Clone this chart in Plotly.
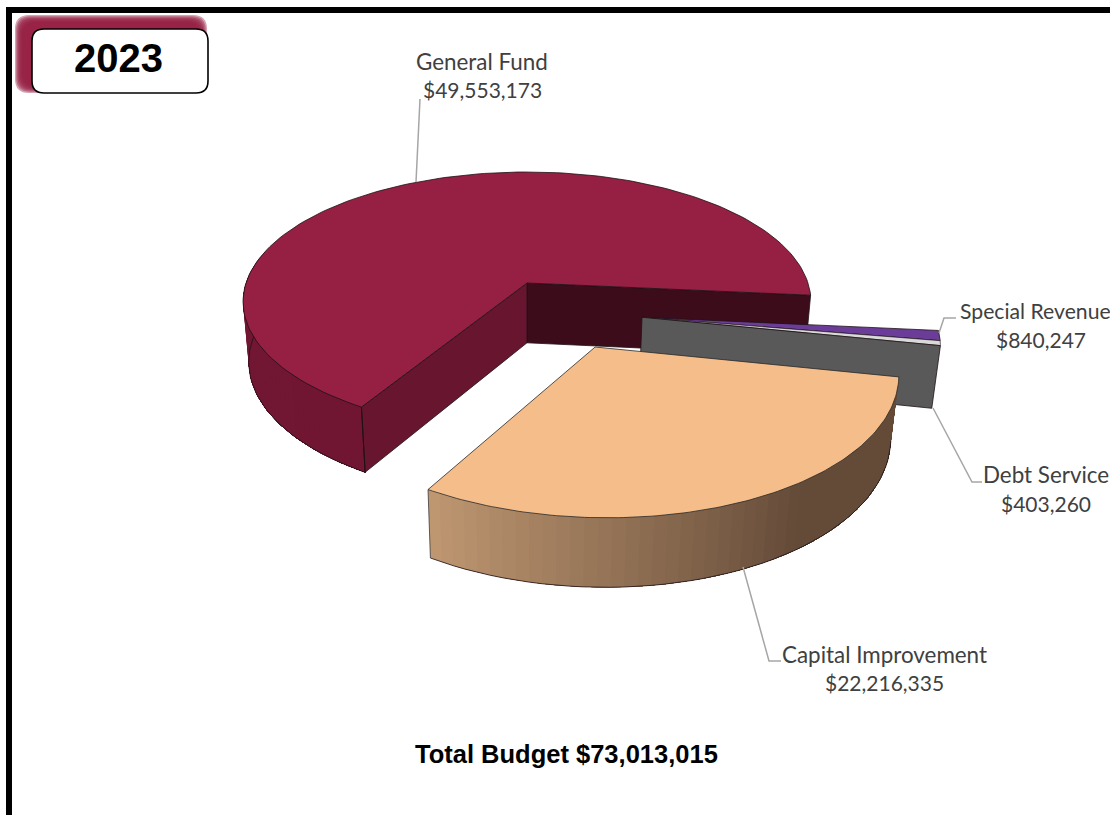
import math
import plotly.graph_objects as go

# Budget by fund
funds = ["General Fund", "Capital Improvement", "Debt Service", "Special Revenue"]
budget = [49553173, 22216335, 403260, 840247]
year_label = "2023"

top_colors = ["#962043", "#F5BD8A", "#D9D9D9", "#6B3D98"]
wall_left = [(116, 24, 52), (192, 152, 114), (89, 89, 89), (60, 35, 90)]
wall_right = [(112, 22, 50), (100, 75, 56), (89, 89, 89), (60, 35, 90)]
start_face = ["#3D0C1A", "#5A432E", "#595959", "#3C235A"]
end_face = ["#68152F", "#B08A64", "#595959", "#3C235A"]
EDGE = "#1E1216"

# Explosion of each slice in the pie's own plane, in radii
offsets = [(0.0, 0.0), (0.226, -0.47), (0.394, -0.26), (0.394, -0.26)]
radii = [1.0, 0.99, 1.0, 1.0]
first_angle = 238.9  # the General Fund / Capital Improvement boundary


def project(x, y, depth):
    """Perspective view of a point on the pie; depth is 0 on top, 1 at the base."""
    w = 1 + 0.144 * y + 0.02 * depth
    return 527 + 281 * x / w, 283 + (-127 * y + 61 * depth) / w


def rim(i, ang, depth):
    ox, oy = offsets[i]
    a = math.radians(ang)
    return project(ox + radii[i] * math.cos(a), oy + radii[i] * math.sin(a), depth)


def apex(i, depth):
    return project(*offsets[i], depth)


def mix(c1, c2, t):
    return "rgb(%d,%d,%d)" % tuple(round(a + (b - a) * t) for a, b in zip(c1, c2))


def steps(a0, a1, n):
    return [a0 + (a1 - a0) * k / n for k in range(n + 1)]


fig = go.Figure()


def poly(points, fill, line=None, width=0.8):
    xs = [p[0] for p in points] + [points[0][0]]
    ys = [p[1] for p in points] + [points[0][1]]
    fig.add_trace(go.Scatter(
        x=xs, y=ys, mode="lines", fill="toself", fillcolor=fill,
        line=dict(color=line or fill, width=width),
        hoverinfo="skip", showlegend=False))


def stroke(points, color, width=0.8):
    fig.add_trace(go.Scatter(x=[p[0] for p in points], y=[p[1] for p in points], mode="lines",
                             line=dict(color=color, width=width), hoverinfo="skip", showlegend=False))


def outer_wall(i, a0, a1, ramp=1.0, n=48):
    """Shaded wall: each band covers the rest of the arc, so no seams show between bands."""
    angles = steps(a0, a1, n)
    for k in range(n):
        rest = angles[k:]
        c = mix(wall_left[i], wall_right[i], min(1.0, (k + 0.5) / n / ramp))
        poly([rim(i, a, 0) for a in rest] + [rim(i, a, 1) for a in reversed(rest)], c, c, 0)
    stroke([rim(i, a, 1) for a in angles], EDGE)


# Angles follow directly from each fund's share of the total
total = sum(budget)
sweep = [v / total * 360 for v in budget]
gf_a1 = first_angle
gf_a0 = gf_a1 - sweep[0]
cap_a0 = gf_a1
cap_a1 = cap_a0 + sweep[1]
debt_a1 = cap_a1 + sweep[2]
spec_a1 = debt_a1 + sweep[3]

# Painted back to front: General Fund first
outer_wall(0, 165, gf_a1)
poly([apex(0, 0), rim(0, gf_a0, 0), rim(0, gf_a0, 1), apex(0, 1)], start_face[0], EDGE)
poly([apex(0, 0), rim(0, gf_a1, 0), rim(0, gf_a1, 1), apex(0, 1)], end_face[0], EDGE)
stroke([rim(0, gf_a1, 0), rim(0, gf_a1, 1)], EDGE, 1)
poly([apex(0, 0)] + [rim(0, a, 0) for a in steps(gf_a0, gf_a1, 160)], top_colors[0], EDGE)

# The two thin wedges: only their tops and the debt wedge's cut face can be seen
poly([apex(3, 0)] + [rim(3, a, 0) for a in steps(debt_a1, spec_a1, 8)], top_colors[3], EDGE)
poly([apex(2, 0)] + [rim(2, a, 0) for a in steps(cap_a1, debt_a1, 8)], top_colors[2], EDGE, 0.6)
poly([apex(2, 0), rim(2, cap_a1, 0), rim(2, cap_a1, 1), apex(2, 1)], start_face[2], EDGE)

# Capital Improvement sits nearest the viewer
outer_wall(1, cap_a0, cap_a1, ramp=0.6)
stroke([rim(1, cap_a0, 0), rim(1, cap_a0, 1)], "#3A3A3A")
poly([apex(1, 0)] + [rim(1, a, 0) for a in steps(cap_a0, cap_a1, 120)], top_colors[1], "#2A2A2A")

leaders = [
    [(416, 182), (420, 99)],
    [(743, 567), (769, 661), (781, 661)],
    [(933, 408), (972, 482), (982, 482)],
    [(939, 333), (944, 318), (956, 318)],
]
for path in leaders:
    stroke(path, "#A6A6A6", 1.5)


def rounded(x0, y0, x1, y1, r):
    return (f"M{x0 + r},{y0} L{x1 - r},{y0} Q{x1},{y0} {x1},{y0 + r} L{x1},{y1 - r} Q{x1},{y1} {x1 - r},{y1} "
            f"L{x0 + r},{y1} Q{x0},{y1} {x0},{y1 - r} L{x0},{y0 + r} Q{x0},{y0} {x0 + r},{y0} Z")


shapes = [
    # Frame, running off the page on the right and at the bottom
    dict(type="rect", xref="x", yref="y", x0=9, y0=10, x1=1130, y1=840,
         line=dict(color="black", width=6), fillcolor="rgba(0,0,0,0)", layer="above"),
]
# Soft maroon glow behind the year badge
for k in range(7):
    inset = k * 1.2
    shapes.append(dict(type="path", xref="x", yref="y",
                       path=rounded(15 + inset, 15 + inset, 207 - inset, 93 - inset, 14),
                       fillcolor="rgba(150,32,67,0.42)", line=dict(width=0), layer="above"))
shapes.append(dict(type="path", xref="x", yref="y", path=rounded(32, 29, 208, 93, 12),
                   fillcolor="white", line=dict(color="black", width=1.6), layer="above"))

# Centre x, then the y of the name and value lines
label_pos = {"General Fund": (482, 61, 89), "Capital Improvement": (884, 654, 682),
             "Debt Service": (1046, 474, 503), "Special Revenue": (1041, 311, 339)}
annotations = []
for name, value in zip(funds, budget):
    x, y_name, y_value = label_pos[name]
    if name == "Special Revenue":
        # Runs right up to the page edge, so it is set from its left end
        name_font = dict(family="Lato", size=21.2, color="#404040")
        annotations.append(dict(x=958, y=y_name, xref="x", yref="y", text=name, showarrow=False,
                                font=name_font, xanchor="left", yanchor="middle"))
    else:
        annotations.append(dict(x=x, y=y_name, xref="x", yref="y", text=name, showarrow=False,
                                font=dict(family="Lato", size=22.4, color="#404040"),
                                xanchor="center", yanchor="middle"))
    annotations.append(dict(x=x, y=y_value, xref="x", yref="y", text=f"${value:,}", showarrow=False,
                            font=dict(family="Lato", size=21, color="#404040"),
                            xanchor="center", yanchor="middle"))
annotations.append(dict(x=118, y=58, xref="x", yref="y", text=f"<b>{year_label}</b>", showarrow=False,
                        font=dict(family="Liberation Sans", size=40, color="black"),
                        xanchor="center", yanchor="middle"))
annotations.append(dict(x=566, y=754, xref="x", yref="y", text=f"<b>Total Budget ${total:,}</b>", showarrow=False,
                        font=dict(family="Liberation Sans", size=25.5, color="black"),
                        xanchor="center", yanchor="middle"))

fig.update_layout(
    width=1110, height=815, margin=dict(l=0, r=0, t=0, b=0), autosize=False,
    paper_bgcolor="white", plot_bgcolor="white",
    xaxis=dict(range=[0, 1110], visible=False, fixedrange=True),
    yaxis=dict(range=[815, 0], visible=False, fixedrange=True),
    shapes=shapes, annotations=annotations, showlegend=False,
)
fig.write_html("out.html", config=dict(displayModeBar=False))
